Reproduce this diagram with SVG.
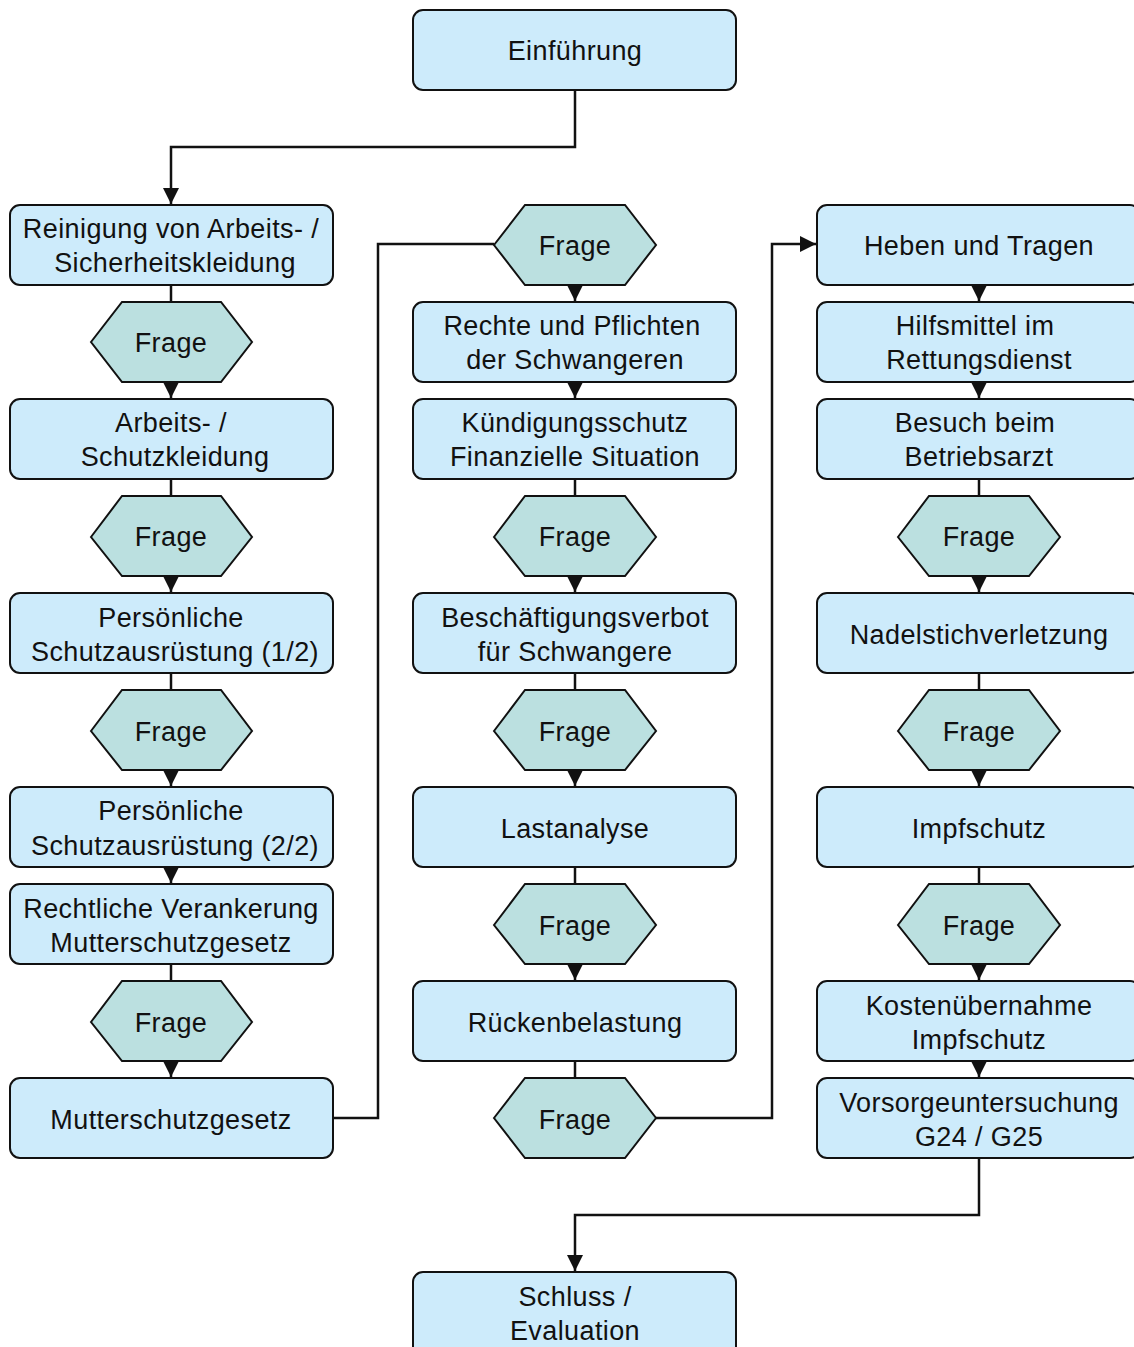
<svg xmlns="http://www.w3.org/2000/svg" width="1134" height="1347" viewBox="0 0 1134 1347">
<style>
.box{fill:#cdebfb;stroke:#111;stroke-width:2}
.hex{fill:#bbe0e0;stroke:#111;stroke-width:2}
.t{font-family:"Liberation Sans",Arial,sans-serif;font-size:27px;letter-spacing:0.4px;fill:#111;text-anchor:middle}
.c{fill:none;stroke:#111;stroke-width:2.5}
.a{marker-end:url(#ah)}
</style>
<defs>
<marker id="ah" markerUnits="userSpaceOnUse" markerWidth="16" markerHeight="16" refX="14" refY="7" orient="auto" viewBox="0 0 14 14">
<path d="M0,0 L14,7 L0,14 z" fill="#111"/>
</marker>
</defs>
<rect width="1134" height="1347" fill="#fff"/>
<g id="connectors">
<path class="c a" d="M575,91 V147 H171 V204"/>
<path class="c" d="M171,285 V302"/>
<path class="c a" d="M171,382 V398"/>
<path class="c" d="M171,479 V496"/>
<path class="c a" d="M171,576 V592"/>
<path class="c" d="M171,673 V690"/>
<path class="c a" d="M171,770 V786"/>
<path class="c a" d="M171,867 V883"/>
<path class="c" d="M171,964 V981"/>
<path class="c a" d="M171,1061 V1077"/>
<path class="c" d="M333,1118 H378 V244 H494"/>
<path class="c a" d="M575,285 V301"/>
<path class="c a" d="M575,382 V398"/>
<path class="c" d="M575,479 V496"/>
<path class="c a" d="M575,576 V592"/>
<path class="c" d="M575,673 V690"/>
<path class="c a" d="M575,770 V786"/>
<path class="c" d="M575,867 V884"/>
<path class="c a" d="M575,964 V980"/>
<path class="c" d="M575,1061 V1078"/>
<path class="c a" d="M656,1118 H772 V244 H816"/>
<path class="c a" d="M979,285 V301"/>
<path class="c a" d="M979,382 V398"/>
<path class="c" d="M979,479 V496"/>
<path class="c a" d="M979,576 V592"/>
<path class="c" d="M979,673 V690"/>
<path class="c a" d="M979,770 V786"/>
<path class="c" d="M979,867 V884"/>
<path class="c a" d="M979,964 V980"/>
<path class="c a" d="M979,1061 V1077"/>
<path class="c a" d="M979,1158 V1215 H575 V1271"/>
</g>
<g id="n_einfuehrung"><rect class="box" x="413" y="10" width="323" height="80" rx="10"/><text class="t" x="575" y="60">Einführung</text></g>

<g id="n_reinigung"><rect class="box" x="10" y="205" width="323" height="80" rx="10"/><text class="t" x="171" y="238">Reinigung von Arbeits- /</text><text class="t" x="175" y="272">Sicherheitskleidung</text></g>
<g id="n_frage_l1"><polygon class="hex" points="91,342 122,302 221,302 252,342 221,382 122,382"/><text class="t" x="171" y="352">Frage</text></g>
<g id="n_arbeits"><rect class="box" x="10" y="399" width="323" height="80" rx="10"/><text class="t" x="171" y="432">Arbeits- /</text><text class="t" x="175" y="466">Schutzkleidung</text></g>
<g id="n_frage_l2"><polygon class="hex" points="91,537 122,496 221,496 252,537 221,576 122,576"/><text class="t" x="171" y="546">Frage</text></g>
<g id="n_psa1"><rect class="box" x="10" y="593" width="323" height="80" rx="10"/><text class="t" x="171" y="627">Persönliche</text><text class="t" x="175" y="661">Schutzausrüstung (1/2)</text></g>
<g id="n_frage_l3"><polygon class="hex" points="91,731 122,690 221,690 252,731 221,770 122,770"/><text class="t" x="171" y="741">Frage</text></g>
<g id="n_psa2"><rect class="box" x="10" y="787" width="323" height="80" rx="10"/><text class="t" x="171" y="820">Persönliche</text><text class="t" x="175" y="855">Schutzausrüstung (2/2)</text></g>
<g id="n_rechtlich"><rect class="box" x="10" y="884" width="323" height="80" rx="10"/><text class="t" x="171" y="918">Rechtliche Verankerung</text><text class="t" x="171" y="952">Mutterschutzgesetz</text></g>
<g id="n_frage_l4"><polygon class="hex" points="91,1022 122,981 221,981 252,1022 221,1061 122,1061"/><text class="t" x="171" y="1032">Frage</text></g>
<g id="n_mschg"><rect class="box" x="10" y="1078" width="323" height="80" rx="10"/><text class="t" x="171" y="1129">Mutterschutzgesetz</text></g>

<g id="n_frage_m1"><polygon class="hex" points="494,245 525,205 625,205 656,245 625,285 525,285"/><text class="t" x="575" y="255">Frage</text></g>
<g id="n_rechte"><rect class="box" x="413" y="302" width="323" height="80" rx="10"/><text class="t" x="572" y="335">Rechte und Pflichten</text><text class="t" x="575" y="369">der Schwangeren</text></g>
<g id="n_kuendigung"><rect class="box" x="413" y="399" width="323" height="80" rx="10"/><text class="t" x="575" y="432">Kündigungsschutz</text><text class="t" x="575" y="466">Finanzielle Situation</text></g>
<g id="n_frage_m2"><polygon class="hex" points="494,537 525,496 625,496 656,537 625,576 525,576"/><text class="t" x="575" y="546">Frage</text></g>
<g id="n_beschaeftigung"><rect class="box" x="413" y="593" width="323" height="80" rx="10"/><text class="t" x="575" y="627">Beschäftigungsverbot</text><text class="t" x="575" y="661">für Schwangere</text></g>
<g id="n_frage_m3"><polygon class="hex" points="494,731 525,690 625,690 656,731 625,770 525,770"/><text class="t" x="575" y="741">Frage</text></g>
<g id="n_last"><rect class="box" x="413" y="787" width="323" height="80" rx="10"/><text class="t" x="575" y="838">Lastanalyse</text></g>
<g id="n_frage_m4"><polygon class="hex" points="494,925 525,884 625,884 656,925 625,964 525,964"/><text class="t" x="575" y="935">Frage</text></g>
<g id="n_ruecken"><rect class="box" x="413" y="981" width="323" height="80" rx="10"/><text class="t" x="575" y="1032">Rückenbelastung</text></g>
<g id="n_frage_m5"><polygon class="hex" points="494,1118 525,1078 625,1078 656,1118 625,1158 525,1158"/><text class="t" x="575" y="1129">Frage</text></g>

<g id="n_heben"><rect class="box" x="817" y="205" width="323" height="80" rx="10"/><text class="t" x="979" y="255">Heben und Tragen</text></g>
<g id="n_hilfsmittel"><rect class="box" x="817" y="302" width="323" height="80" rx="10"/><text class="t" x="975" y="335">Hilfsmittel im</text><text class="t" x="979" y="369">Rettungsdienst</text></g>
<g id="n_besuch"><rect class="box" x="817" y="399" width="323" height="80" rx="10"/><text class="t" x="975" y="432">Besuch beim</text><text class="t" x="979" y="466">Betriebsarzt</text></g>
<g id="n_frage_r1"><polygon class="hex" points="898,537 929,496 1029,496 1060,537 1029,576 929,576"/><text class="t" x="979" y="546">Frage</text></g>
<g id="n_nadel"><rect class="box" x="817" y="593" width="323" height="80" rx="10"/><text class="t" x="979" y="644">Nadelstichverletzung</text></g>
<g id="n_frage_r2"><polygon class="hex" points="898,731 929,690 1029,690 1060,731 1029,770 929,770"/><text class="t" x="979" y="741">Frage</text></g>
<g id="n_impf"><rect class="box" x="817" y="787" width="323" height="80" rx="10"/><text class="t" x="979" y="838">Impfschutz</text></g>
<g id="n_frage_r3"><polygon class="hex" points="898,925 929,884 1029,884 1060,925 1029,964 929,964"/><text class="t" x="979" y="935">Frage</text></g>
<g id="n_kosten"><rect class="box" x="817" y="981" width="323" height="80" rx="10"/><text class="t" x="979" y="1015">Kostenübernahme</text><text class="t" x="979" y="1049">Impfschutz</text></g>
<g id="n_vorsorge"><rect class="box" x="817" y="1078" width="323" height="80" rx="10"/><text class="t" x="979" y="1112">Vorsorgeuntersuchung</text><text class="t" x="979" y="1146">G24 / G25</text></g>

<g id="n_schluss"><rect class="box" x="413" y="1272" width="323" height="90" rx="10"/><text class="t" x="575" y="1306">Schluss /</text><text class="t" x="575" y="1340">Evaluation</text></g>
</svg>
